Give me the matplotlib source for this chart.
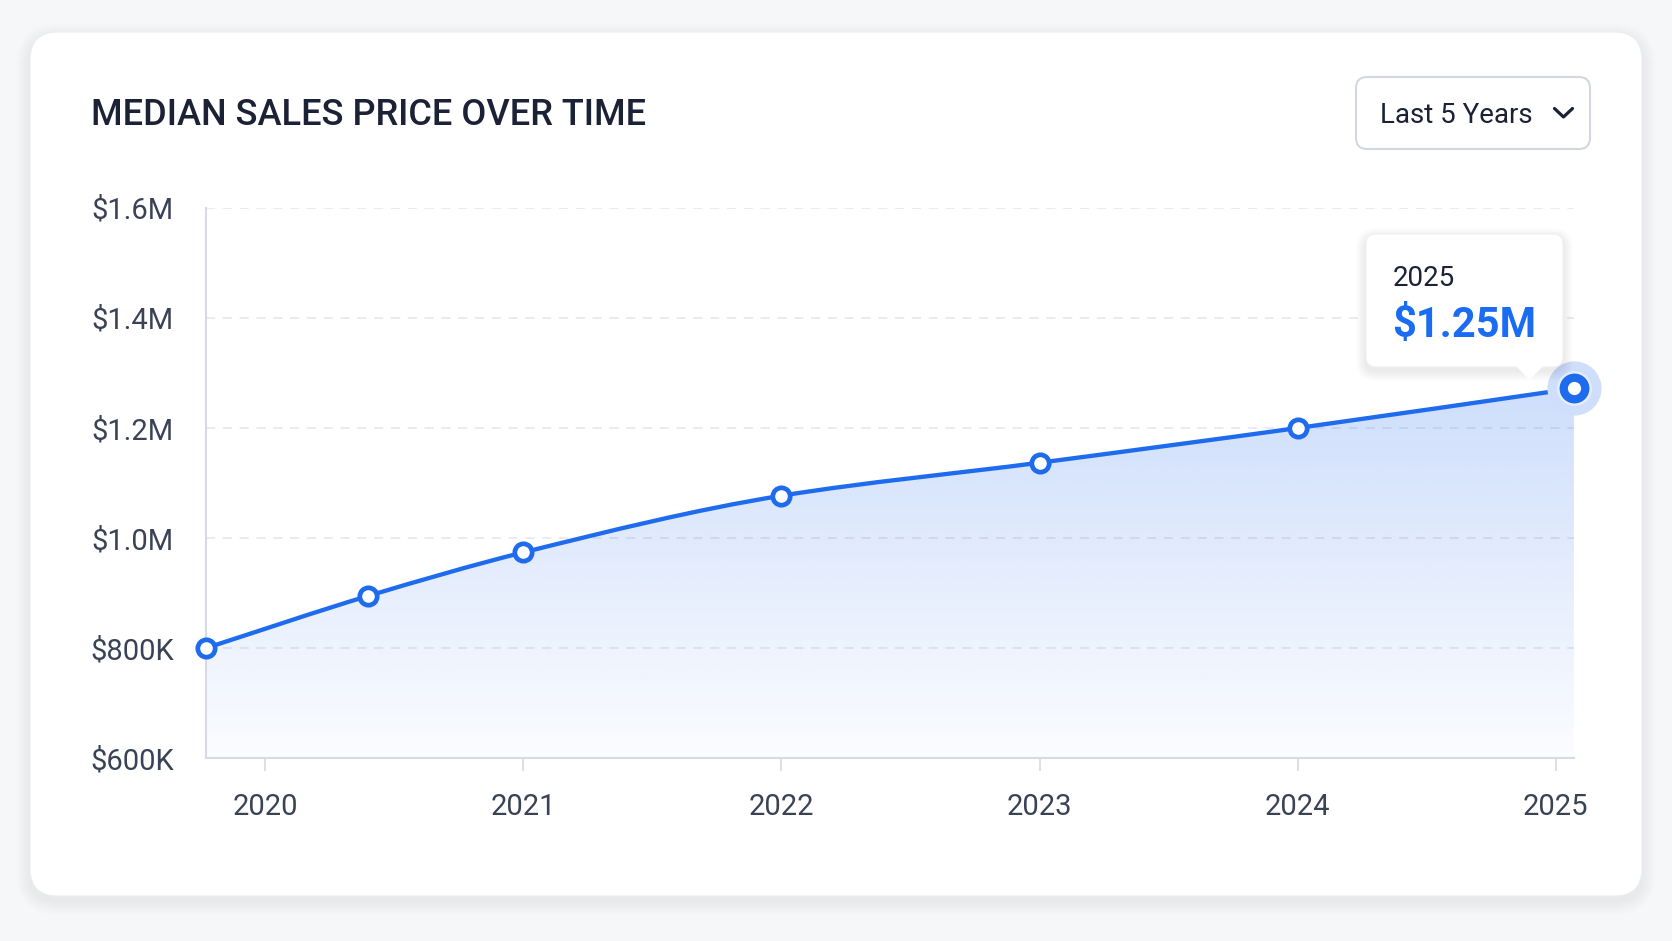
import numpy as np
import matplotlib
matplotlib.use('Agg')
import matplotlib.pyplot as plt
from matplotlib.patches import FancyBboxPatch, Polygon, PathPatch
from matplotlib.path import Path
from matplotlib.lines import Line2D
from matplotlib.colors import to_rgb

plt.rcParams['font.family'] = ['Roboto', 'DejaVu Sans']

# ---------------- data ----------------
years = [2019.77, 2020.40, 2021.0, 2022.0, 2023.0, 2024.0, 2025.07]
prices_k = [800, 895, 974, 1077, 1137, 1200, 1272]   # median price in $K
y_ticks = [600, 800, 1000, 1200, 1400, 1600]
y_tick_labels = ['$600K', '$800K', '$1.0M', '$1.2M', '$1.4M', '$1.6M']
x_ticks = [2020, 2021, 2022, 2023, 2024, 2025]
x_tick_labels = ['2020', '2021', '2022', '2023', '2024', '2025']
title = 'MEDIAN SALES PRICE OVER TIME'
range_label = 'Last 5 Years'
tooltip_year = '2025'
tooltip_value = '$1.25M'

BLUE = '#1f6bee'
DARK = '#1b2236'
TICK = '#3a4256'
AXIS = '#d6dae2'

W, H = 1672, 941
fig = plt.figure(figsize=(W / 100, H / 100), dpi=100)
fig.patch.set_facecolor('#f6f7f9')

# ---------- background overlay (pixel coordinates) ----------
bg = fig.add_axes([0, 0, 1, 1], zorder=0)
bg.set_xlim(0, W)
bg.set_ylim(H, 0)
bg.axis('off')

cx0, cy0, cx1, cy1 = 30, 32, 1642, 896
for i in range(14, 0, -1):
    bg.add_patch(FancyBboxPatch((cx0 - i, cy0 - i + 5), (cx1 - cx0) + 2 * i, (cy1 - cy0) + 2 * i,
                                boxstyle=f'round,pad=0,rounding_size={28 + i}',
                                facecolor='#1b2540', alpha=0.004, lw=0))
bg.add_patch(FancyBboxPatch((cx0, cy0), cx1 - cx0, cy1 - cy0,
                            boxstyle='round,pad=0,rounding_size=28',
                            facecolor='white', edgecolor='#eceef2', lw=0.8))

bg.text(90.6, 125, title, fontsize=26, fontweight='medium', color=DARK,
        ha='left', va='baseline')

# dropdown
bg.add_patch(FancyBboxPatch((1356, 77), 234, 72, boxstyle='round,pad=0,rounding_size=11',
                            facecolor='white', edgecolor='#d3d8e0', lw=1.5))
bg.text(1380, 123.3, range_label, fontsize=20, color=DARK, ha='left', va='baseline')
bg.add_line(Line2D([1554.5, 1563.5, 1572.5], [108.5, 117, 108.5], lw=2.3, color=DARK,
                   solid_capstyle='round', solid_joinstyle='round'))

# ---------------- main axes ----------------
L, R, T, B = 205.8, 1573.9, 207.9, 758.2
ax = fig.add_axes([L / W, 1 - B / H, (R - L) / W, (B - T) / H], zorder=5)
ax.patch.set_alpha(0)
ax.set_xlim(years[0], years[-1])
ax.set_ylim(y_ticks[0], y_ticks[-1])

for s in ['top', 'right']:
    ax.spines[s].set_visible(False)
for s in ['left', 'bottom']:
    ax.spines[s].set_color(AXIS)
    ax.spines[s].set_linewidth(1.5)

for yv in y_ticks[1:]:
    ax.axhline(yv, color='#e3e6ec', lw=1.1, ls=(0, (6, 5)), zorder=0.5)

ax.set_yticks(y_ticks)
ax.set_yticklabels(y_tick_labels)
ax.set_xticks(x_ticks)
ax.set_xticklabels(x_tick_labels)
ax.tick_params(axis='y', length=0, pad=23, labelsize=21, labelcolor=TICK)
ax.tick_params(axis='x', length=9, width=1.2, color=AXIS, pad=16, labelsize=21, labelcolor=TICK)

# smooth monotone curve through the points
x = np.array(years, float)
y = np.array(prices_k, float)
h = np.diff(x)
d = np.diff(y) / h
m = np.zeros_like(y)
m[0], m[-1] = d[0], d[-1]
for i in range(1, len(y) - 1):
    if d[i - 1] * d[i] <= 0:
        m[i] = 0
    else:
        w1 = 2 * h[i] + h[i - 1]
        w2 = h[i] + 2 * h[i - 1]
        m[i] = (w1 + w2) / (w1 / d[i - 1] + w2 / d[i])
verts = [(x[0], y[0])]
codes = [Path.MOVETO]
for i in range(len(x) - 1):
    verts += [(x[i] + h[i] / 3, y[i] + m[i] * h[i] / 3),
              (x[i + 1] - h[i] / 3, y[i + 1] - m[i + 1] * h[i] / 3),
              (x[i + 1], y[i + 1])]
    codes += [Path.CURVE4] * 3

fill_verts = verts + [(x[-1], y_ticks[0]), (x[0], y_ticks[0]), (x[0], y[0])]
fill_codes = codes + [Path.LINETO, Path.LINETO, Path.CLOSEPOLY]
clip = PathPatch(Path(fill_verts, fill_codes), transform=ax.transData,
                 facecolor='none', edgecolor='none')
ax.add_patch(clip)
n = 256
rgba = np.zeros((n, 1, 4))
rgba[..., :3] = to_rgb('#2a6ff0')
rgba[..., 3] = np.linspace(0.02, 0.23, n).reshape(-1, 1)
im = ax.imshow(rgba, extent=[x[0], x[-1], y_ticks[0], y.max()], origin='lower',
               aspect='auto', zorder=1, interpolation='bilinear')
im.set_clip_path(clip)
ax.set_xlim(years[0], years[-1])
ax.set_ylim(y_ticks[0], y_ticks[-1])

ax.add_patch(PathPatch(Path(verts, codes), facecolor='none', edgecolor=BLUE, lw=3.1,
                       capstyle='round', joinstyle='round', zorder=3, clip_on=False))

ax.plot(x[:-1], y[:-1], 'o', ms=12.5, mfc='white', mec=BLUE, mew=3.4, zorder=4, clip_on=False)
ax.plot(x[-1], y[-1], 'o', ms=39, mfc='#cfdffb', mec='none', zorder=4, clip_on=False)
ax.plot(x[-1], y[-1], 'o', ms=25, mfc='#e6eefd', mec='none', zorder=4, clip_on=False)
ax.plot(x[-1], y[-1], 'o', ms=21.5, mfc=BLUE, mec='none', zorder=4, clip_on=False)
ax.plot(x[-1], y[-1], 'o', ms=9.5, mfc='white', mec='none', zorder=4, clip_on=False)

# ---------------- foreground overlay: tooltip ----------------
fg = fig.add_axes([0, 0, 1, 1], zorder=10)
fg.set_xlim(0, W)
fg.set_ylim(H, 0)
fg.axis('off')
fg.patch.set_alpha(0)

tx0, ty0, tx1, ty1 = 1366, 234, 1563, 367
for i in range(10, 0, -1):
    fg.add_patch(FancyBboxPatch((tx0 - i, ty0 - i + 4), (tx1 - tx0) + 2 * i, (ty1 - ty0) + 2 * i,
                                boxstyle=f'round,pad=0,rounding_size={10 + i}',
                                facecolor='#1b2540', alpha=0.006, lw=0))
fg.add_patch(FancyBboxPatch((tx0, ty0), tx1 - tx0, ty1 - ty0,
                            boxstyle='round,pad=0,rounding_size=10',
                            facecolor='white', edgecolor='#eef0f4', lw=0.8))
fg.add_patch(Polygon([(1516, 366), (1543, 366), (1529.5, 380)], closed=True,
                     facecolor='white', edgecolor='none'))
fg.text(1393, 286, tooltip_year, fontsize=20, color=DARK, ha='left', va='baseline')
fg.text(1392, 336.7, tooltip_value, fontsize=30, fontweight='bold', color='#1a6cf2',
        ha='left', va='baseline')

fig.savefig('out.png', dpi=100, facecolor=fig.get_facecolor())
